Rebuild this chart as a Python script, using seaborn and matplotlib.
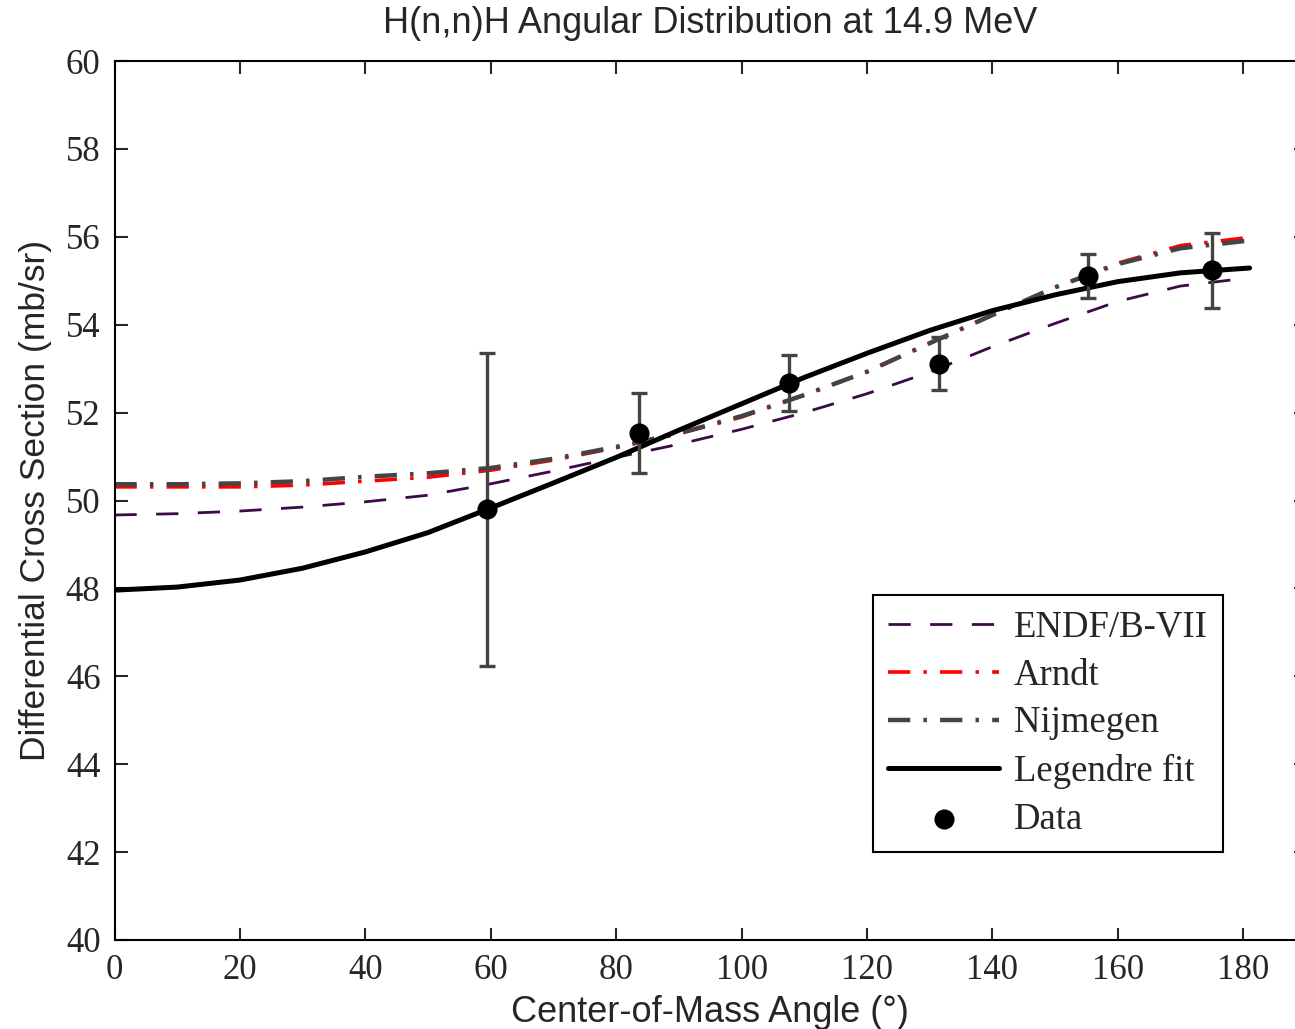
import numpy as np
import pandas as pd
import matplotlib.pyplot as plt
import seaborn as sns

# curve values, per angle (deg)
angles = [0, 10, 20, 30, 40, 50, 60, 70, 80, 90, 100, 110, 120, 130, 140, 150, 160, 170, 180, 181]
endf = [49.67, 49.70, 49.76, 49.85, 49.97, 50.12, 50.38, 50.67, 50.98, 51.28, 51.62, 52.00, 52.43,
        52.92, 53.50, 54.03, 54.53, 54.88, 55.05, 55.06]
arndt = [50.31, 50.31, 50.31, 50.35, 50.44, 50.53, 50.69, 50.92, 51.20, 51.52, 51.90, 52.40, 52.93,
         53.58, 54.22, 54.85, 55.40, 55.80, 55.97, 55.98]
nijmegen = [50.37, 50.37, 50.39, 50.44, 50.54, 50.62, 50.74, 50.95, 51.22, 51.53, 51.92, 52.40, 52.93,
            53.58, 54.22, 54.85, 55.38, 55.74, 55.90, 55.91]
legendre = [47.96, 48.03, 48.19, 48.46, 48.83, 49.27, 49.83, 50.40, 50.98, 51.60, 52.20, 52.80, 53.35,
            53.87, 54.32, 54.68, 54.98, 55.18, 55.28, 55.29]

data_angle = [59.4, 83.6, 107.6, 131.4, 155.2, 175.0]
data_xs = [49.80, 51.54, 52.67, 53.11, 55.11, 55.24]
data_err = [3.56, 0.91, 0.63, 0.60, 0.50, 0.85]

curves = pd.DataFrame({"angle": angles, "ENDF/B-VII": endf, "Arndt": arndt,
                       "Nijmegen": nijmegen, "Legendre fit": legendre})

sns.set_style("ticks")
plt.rcParams["font.family"] = ["Liberation Serif", "DejaVu Serif"]
plt.rcParams["lines.scale_dashes"] = False
plt.rcParams["xtick.direction"] = "in"
plt.rcParams["ytick.direction"] = "in"

fig = plt.figure(figsize=(12.95, 10.29), dpi=100)
# axes run a little past the right edge of the picture, as in the reference
ax = fig.add_axes([114.5 / 1295, 1 - 940 / 1029, (1306 - 114.5) / 1295, (940 - 61) / 1029])

dashdot = (0, (16, 9.5, 2.5, 9.5))
sns.lineplot(data=curves, x="angle", y="ENDF/B-VII", ax=ax, color="#3d0a48", lw=2.0,
             linestyle=(0, (16, 14)), label="ENDF/B-VII")
sns.lineplot(data=curves, x="angle", y="Arndt", ax=ax, color="#ff0000", lw=2.6,
             linestyle=dashdot, label="Arndt")
sns.lineplot(data=curves, x="angle", y="Nijmegen", ax=ax, color="#444444", lw=3.2,
             linestyle=dashdot, label="Nijmegen")
sns.lineplot(data=curves, x="angle", y="Legendre fit", ax=ax, color="black", lw=3.6,
             label="Legendre fit")
ax.errorbar(data_angle, data_xs, yerr=data_err, fmt="none", ecolor="#444444",
            elinewidth=2.4, capsize=5.5, capthick=2.4, zorder=4)
sns.scatterplot(x=data_angle, y=data_xs, ax=ax, color="black", s=180, edgecolor="black",
                zorder=5, label="Data")

ax.set_xlim(0, 190)
ax.set_ylim(40, 60)
ax.set_xticks(np.arange(0, 181, 20))
ax.set_yticks(np.arange(40, 61, 2))
ax.tick_params(axis="both", which="major", labelsize=25, length=9, width=1.5,
               top=True, right=True, pad=10)
for s in ax.spines.values():
    s.set_linewidth(1.5)
    s.set_color("black")

sans = ["Liberation Sans", "DejaVu Sans"]
ax.set_title("H(n,n)H Angular Distribution at 14.9 MeV", family=sans, fontsize=26, pad=20)
ax.set_xlabel("Center-of-Mass Angle (°)", family=sans, fontsize=26, labelpad=6)
ax.set_ylabel("Differential Cross Section (mb/sr)", family=sans, fontsize=25.5, labelpad=10)

handles, labels = ax.get_legend_handles_labels()
leg = ax.legend(handles, labels, loc="upper left", bbox_to_anchor=(873 / 1295, 1 - 595 / 1029),
                bbox_transform=fig.transFigure, borderaxespad=0, fontsize=26.5, frameon=True,
                fancybox=False, edgecolor="black", framealpha=1, handlelength=3.0,
                handletextpad=0.4, borderpad=0.42, labelspacing=0.36)
leg.get_frame().set_linewidth(1.5)

fig.savefig("out.png", dpi=100)
